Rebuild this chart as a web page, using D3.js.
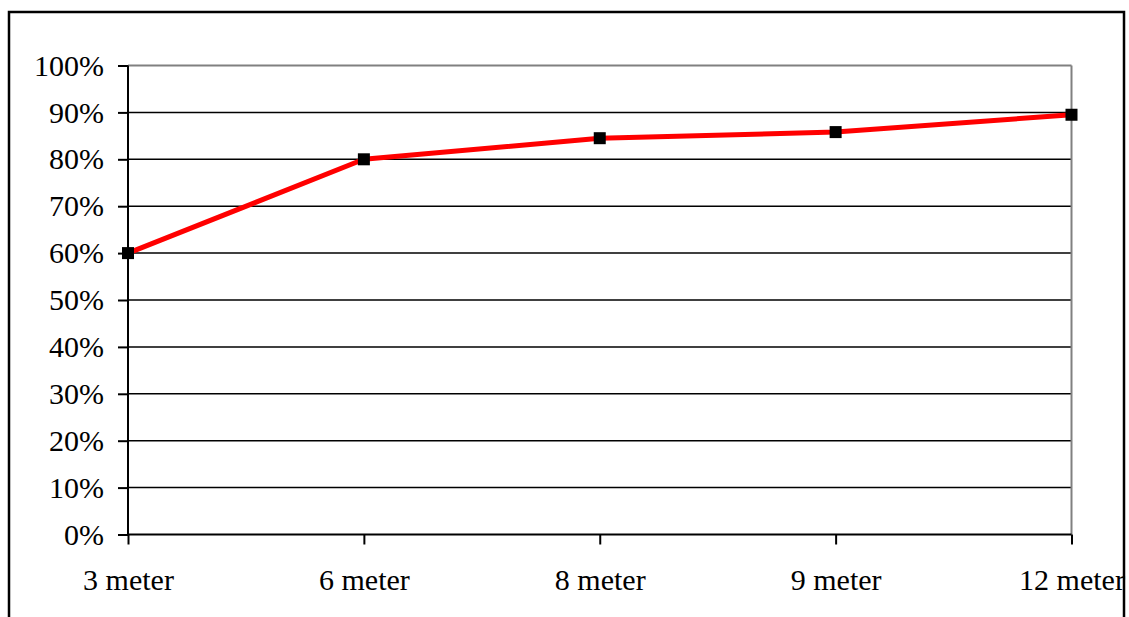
<!DOCTYPE html>
<html>
<head>
<meta charset="utf-8">
<script src="https://cdn.jsdelivr.net/npm/d3@7"></script>
<style>
  html, body { margin: 0; padding: 0; background: #fff; }
  svg { display: block; }
</style>
</head>
<body>
<svg id="chart" width="1129" height="617"></svg>
<script>
// Share by measuring distance
const categories = ["3 meter", "6 meter", "8 meter", "9 meter", "12 meter"];
const values = [0.60, 0.80, 0.845, 0.858, 0.895];
const yTicks = [0, 0.1, 0.2, 0.3, 0.4, 0.5, 0.6, 0.7, 0.8, 0.9, 1.0];

const svg = d3.select("#chart");
const plot = { left: 128, right: 1071.5, top: 65.5, bottom: 534.5 };
const font = "'Liberation Serif', 'Times New Roman', serif";

// outer chart frame (bottom runs past the canvas)
svg.append("rect")
  .attr("x", 9).attr("y", 12)
  .attr("width", 1115).attr("height", 640)
  .attr("fill", "#fff").attr("stroke", "#000").attr("stroke-width", 2.5);

const x = d3.scalePoint().domain(categories).range([plot.left, plot.right]);
const y = d3.scaleLinear().domain([0, 1]).range([plot.bottom, plot.top]);

// horizontal gridlines
svg.append("g")
  .selectAll("line")
  .data(yTicks.filter(d => d > 0 && d < 1))
  .join("line")
  .attr("x1", plot.left).attr("x2", plot.right)
  .attr("y1", d => y(d)).attr("y2", d => y(d))
  .attr("stroke", "#000").attr("stroke-width", 1.5);

// plot area top and right edges
svg.append("line")
  .attr("x1", plot.left).attr("x2", plot.right)
  .attr("y1", y(1)).attr("y2", y(1))
  .attr("stroke", "#808080").attr("stroke-width", 2);
svg.append("line")
  .attr("x1", plot.right).attr("x2", plot.right)
  .attr("y1", plot.top).attr("y2", plot.bottom)
  .attr("stroke", "#808080").attr("stroke-width", 2);

// y axis
const yAxis = d3.axisLeft(y)
  .tickValues(yTicks)
  .tickFormat(d3.format(".0%"))
  .tickSize(10)
  .tickPadding(14);
const gy = svg.append("g")
  .attr("transform", `translate(${plot.left},0)`)
  .call(yAxis);
gy.select(".domain").attr("stroke", "#000").attr("stroke-width", 2)
  .attr("d", `M0,${plot.top}V${plot.bottom}`);
gy.selectAll(".tick line").attr("stroke", "#000").attr("stroke-width", 2);
gy.selectAll(".tick text")
  .attr("fill", "#000")
  .style("font-family", font).style("font-size", "30px");

// x axis
const xAxis = d3.axisBottom(x).tickSize(10).tickPadding(24);
const gx = svg.append("g")
  .attr("transform", `translate(0,${plot.bottom})`)
  .call(xAxis);
gx.select(".domain").attr("stroke", "#000").attr("stroke-width", 2)
  .attr("d", `M${plot.left},0H${plot.right}`);
gx.selectAll(".tick line").attr("stroke", "#000").attr("stroke-width", 2);
gx.selectAll(".tick text")
  .attr("fill", "#000")
  .style("font-family", font).style("font-size", "30px");

// series line
const data = categories.map((c, i) => ({ c, v: values[i] }));
svg.append("path")
  .datum(data)
  .attr("fill", "none")
  .attr("stroke", "#ff0000")
  .attr("stroke-width", 5)
  .attr("stroke-linejoin", "round")
  .attr("d", d3.line().x(d => x(d.c)).y(d => y(d.v)));

// square markers
const m = 12;
svg.append("g")
  .selectAll("rect")
  .data(data)
  .join("rect")
  .attr("x", d => x(d.c) - m / 2)
  .attr("y", d => y(d.v) - m / 2)
  .attr("width", m).attr("height", m)
  .attr("fill", "#000");
</script>
</body>
</html>
